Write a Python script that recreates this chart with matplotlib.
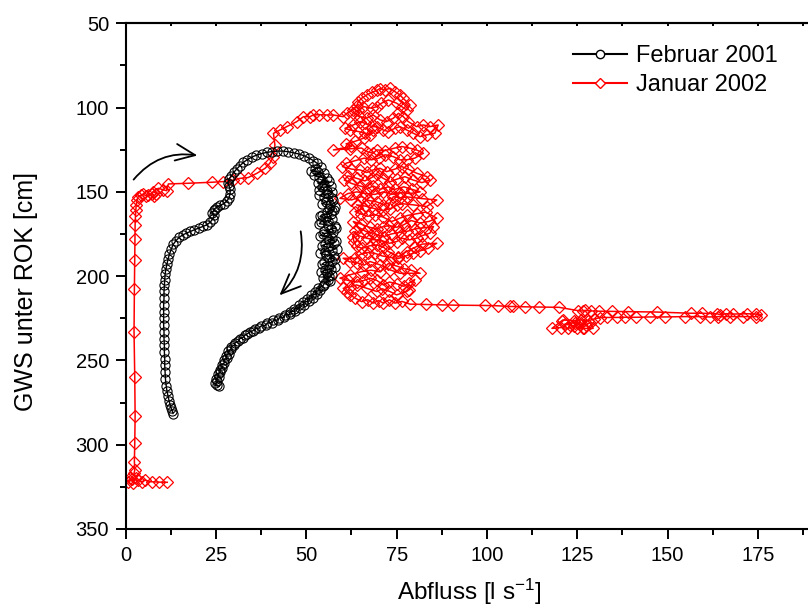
import matplotlib
matplotlib.use("Agg")
import matplotlib.pyplot as plt
from matplotlib.lines import Line2D
from matplotlib.ticker import MultipleLocator

plt.rcParams['font.family'] = ['Liberation Sans', 'DejaVu Sans']
plt.rcParams['mathtext.fontset'] = 'custom'
plt.rcParams['mathtext.rm'] = 'Liberation Sans'
plt.rcParams['mathtext.default'] = 'regular'

# --- Februar 2001: (Abfluss l/s, GWS cm) ---
feb01_left = [
    (13.1, 281.5), (12.9, 280), (12.6, 278.5), (12.3, 276.5), (12.0, 274), (11.7, 271),
    (11.4, 268), (11.2, 265), (11.0, 261), (10.9, 257), (10.8, 253), (10.8, 249),
    (10.7, 245), (10.7, 241), (10.6, 237), (10.6, 233), (10.5, 229), (10.5, 225),
    (10.5, 221), (10.5, 217), (10.6, 213), (10.6, 209), (10.7, 205), (10.8, 202),
    (10.9, 199), (11.1, 196), (11.4, 193), (11.7, 190), (12.1, 187), (12.6, 184),
    (13.2, 181), (13.9, 179), (14.8, 177), (15.8, 175.5), (16.8, 174.5), (17.9, 173.5),
    (19.0, 172.5), (20.2, 171.5), (21.4, 170.5), (22.5, 169.5), (23.4, 168), (24.1, 166),
    (24.5, 164), (24.0, 162.5), (24.4, 161), (24.6, 160), (25.3, 159), (26.2, 158),
    (27.1, 157), (28.0, 155.5), (28.6, 153.5), (28.9, 151), (28.9, 148.5), (28.6, 146.5),
    (28.3, 144.5), (28.6, 142.5), (29.2, 140.5), (29.9, 138.5), (30.7, 136.5),
]
feb01_top = [
    (31.6, 134.5), (32.6, 132.5), (33.7, 130.8), (34.9, 129.4), (36.2, 128.2), (37.6, 127.3),
    (39.0, 126.6), (40.5, 126.1), (42.0, 125.8), (43.5, 125.8), (45.0, 126.2), (46.5, 126.8),
    (48.0, 127.6), (49.4, 128.6), (50.7, 129.9), (51.9, 131.4), (53.0, 133.1), (54.0, 135),
    (52.5, 136.2), (51.3, 137.4), (53.2, 138.3), (54.9, 139.1), (52.1, 140), (53.6, 141),
    (55.6, 141.9), (54.4, 143), (56.3, 143.8), (53.1, 144.7), (55.0, 145.7), (56.9, 146.5),
    (54.2, 147.4), (53.4, 148.6), (55.7, 149.4), (57.2, 150.2), (56.0, 151.2), (53.6, 152.1),
    (54.8, 153.1), (57.1, 153.9), (57.5, 155), (55.4, 155.9), (54.3, 157), (56.5, 157.8),
    (57.9, 158.8), (56.4, 159.6),
]
feb01_right = [
    (57.7, 160.5), (57.0, 161.2), (55.6, 162), (56.8, 162.9), (54.3, 163.6), (53.8, 164.6),
    (55.4, 165.3), (57.2, 166), (56.1, 167), (54.0, 167.8), (53.6, 168.9), (55.9, 169.6),
    (57.9, 170.4), (58.3, 171.5), (56.7, 172.2), (55.0, 173), (57.4, 173.9), (54.5, 174.8),
    (53.9, 175.9), (55.6, 176.6), (57.1, 177.4), (56.2, 178.4), (58.1, 179.2), (57.6, 180.3),
    (55.3, 181), (54.2, 182), (56.0, 182.8), (58.4, 183.6), (57.0, 184.6), (55.1, 185.4),
    (53.9, 186.5), (55.5, 187.4), (57.7, 188.2), (56.4, 189.1), (58.0, 190), (57.2, 191.1),
    (55.0, 191.9), (54.3, 193), (56.3, 193.8), (57.8, 194.6), (56.9, 195.6), (55.2, 196.4),
    (54.1, 197.4), (55.8, 198.2), (57.2, 199.1), (56.3, 200.2), (54.7, 201), (55.9, 202),
    (56.6, 203), (55.1, 204), (54.8, 205),
]
feb01_lower = [
    (54.5, 206), (53.2, 207.2), (53.9, 208.4), (52.4, 209.3), (52.9, 210.6), (51.3, 211.4),
    (51.8, 212.8), (50.2, 213.5), (50.6, 214.9), (49.1, 215.6), (49.4, 217), (47.9, 217.4),
    (48.2, 218.9), (46.7, 219.3), (46.9, 220.8), (45.4, 221.1), (45.5, 222.7), (44.0, 222.9),
    (43.9, 224.4), (42.5, 224.6), (42.2, 226.0), (40.9, 226.2), (40.5, 227.6), (39.2, 227.8),
    (38.7, 229.2), (37.5, 229.5), (36.9, 230.8), (35.9, 231.2), (35.1, 232.5), (34.4, 233.1),
    (33.6, 234.3), (32.9, 235.2), (32.4, 236.4), (31.5, 237.2), (31.2, 238.6), (30.3, 239.5),
    (30.1, 240.9), (29.2, 241.9), (29.2, 243.4), (28.4, 244.4), (28.5, 246), (27.7, 247.1),
    (27.9, 248.7), (27.1, 249.8), (27.3, 251.4), (26.6, 252.6), (26.7, 254.2), (26.0, 255.4),
    (26.2, 257), (25.5, 258.2), (25.7, 259.8), (25.1, 261), (25.4, 262.5), (24.8, 263.6),
    (25.2, 264.8), (25.9, 265.3),
]

# --- Januar 2002 ---
jan02_start = [
    (11.5, 322.3), (9.3, 322.2), (7.2, 322), (5.2, 321), (4.5, 322), (3.3, 321),
    (1.8, 320.5), (0.6, 322), (1.2, 320), (2.0, 322.5), (2.8, 319.5), (2.3, 317),
]
jan02_rise = [
    (2.5, 315), (2.4, 310), (2.5, 299), (2.6, 282.7), (2.5, 260), (2.3, 233),
    (2.4, 207.6), (2.5, 190.4), (2.6, 178), (2.6, 169.6), (2.7, 164.3), (2.8, 160.7),
    (2.9, 157.5), (3.1, 155), (3.4, 153), (4.1, 152), (4.8, 151.5), (5.6, 152.2),
    (6.3, 151.8), (7.2, 151), (7.8, 152.5), (8.5, 151), (7.6, 149.9), (9.0, 147.9),
    (10.2, 148.6), (11.3, 149.3), (11.8, 145.3),
]
jan02_plateau = [
    (17.3, 144.9), (23.8, 144.3), (27.0, 143.9), (29.8, 143), (31.6, 142), (33.9, 141.5),
    (36.3, 139), (38.6, 136), (39.9, 133), (40.9, 129.1), (41.3, 122.2), (40.9, 115.3),
    (42.7, 113.3), (44.6, 111.3), (47.3, 108.4), (49.2, 105.4), (51.0, 105.4), (51.9, 104.4),
    (53.5, 104.2), (55.6, 104.4), (57.5, 104.4), (60.2, 105.4),
]
jan02_upper = [
    (61.2, 103.4), (62.8, 101.5), (63.9, 99), (64.4, 96.5), (65.3, 94.5), (66.7, 92.5),
    (68.1, 91), (69.5, 89.8), (70.4, 88.7), (71.8, 89.5), (73.2, 88.5), (74.5, 90.5),
    (75.9, 92.5), (76.8, 94.5), (78.7, 98.4), (77.8, 101.4), (76.4, 99.4), (75.0, 97.4),
    (72.7, 95.5), (70.8, 97.4), (69.5, 99.4), (68.1, 100.4), (65.8, 99.4), (64.4, 101.4),
    (63.0, 103.4), (64.9, 105.3), (66.7, 106.3), (68.5, 104.4), (70.4, 107.3), (72.2, 108.3),
    (74.1, 106.3), (75.5, 103.4), (76.8, 105.3), (78.2, 108.3), (80.5, 111.3), (82.4, 110.3),
    (84.2, 111.3), (86.5, 110.3), (85.6, 115.2), (83.3, 116.2), (81.5, 117.2), (79.6, 115.2),
    (77.8, 113.3), (75.9, 111.3), (74.5, 112.3), (72.7, 114.2), (71.3, 113.3), (69.5, 111.3),
    (68.1, 111.3), (66.2, 109.3), (64.9, 108.3), (63.0, 110.3), (60.7, 112.3), (62.1, 113.3),
    (64.4, 114.2), (66.2, 115.2), (67.6, 116.2), (68.5, 113.3), (66.0, 118), (63.5, 120),
    (61.0, 121.5), (62.5, 123), (57.5, 125.1), (62.0, 124.5), (65.3, 124), (66.7, 126.1),
    (68.5, 127.1), (69.5, 125.1), (71.8, 125.5), (74.5, 124), (76.4, 123.1), (78.7, 124.1),
    (80.5, 125.1), (82.4, 127.1), (80.0, 130), (77.8, 131), (75.9, 131), (74.1, 129.1),
    (71.8, 128), (70.0, 130), (68.0, 131), (66.0, 130), (63.5, 131.5), (61.0, 133),
    (60.0, 135), (62.5, 136.5), (64.9, 137), (66.7, 138.5), (68.5, 137), (70.4, 136),
    (72.2, 138), (74.5, 136.5), (76.4, 135), (78.2, 136.5), (80.5, 138.9), (83.3, 140.9),
    (84.2, 143), (82.0, 144.5), (79.6, 143), (77.3, 141), (75.0, 142.5), (73.2, 144),
    (71.3, 142), (69.5, 139.5), (68.1, 141.5), (66.2, 143.5), (64.0, 142), (61.5, 140.5),
    (60.5, 143), (62.5, 145), (64.9, 146.5), (67.0, 148), (68.5, 146.5), (70.4, 148.5),
    (72.7, 147), (74.5, 148.5), (77.0, 147), (79.2, 148.5), (81.5, 150), (78.7, 151),
    (76.0, 150.5), (73.6, 151.5), (71.3, 150), (69.0, 151.5), (66.5, 151), (64.0, 150),
    (61.5, 151), (59.3, 153.8), (62.5, 154.8), (65.3, 152.8), (67.0, 155), (69.5, 156),
    (71.3, 157.5), (73.2, 156.5), (74.1, 152.8), (76.0, 153.5), (78.0, 153), (82.0, 154),
    (86.1, 154.8), (83.3, 158.7), (79.6, 157.7), (76.4, 157), (75.0, 158), (73.2, 160),
    (71.3, 161), (69.0, 160), (66.5, 158.5), (63.9, 157.7), (65.8, 159.7), (63.5, 161.7),
]
jan02_lower = [
    (65.0, 163), (67.0, 164.5), (69.0, 163.5), (71.3, 165), (73.6, 167.6), (75.9, 165.6),
    (78.0, 164), (80.5, 163), (83.0, 162), (86.1, 165.6), (84.0, 167.5), (81.5, 168.5),
    (79.0, 167), (77.0, 169.5), (75.0, 171), (73.0, 170), (71.3, 170.6), (69.5, 172),
    (67.5, 171), (65.0, 169), (63.0, 167.6), (64.5, 171), (66.5, 173.5), (68.5, 174.5),
    (69.5, 175.5), (71.5, 176.5), (73.5, 175), (75.8, 174), (77.8, 173.5), (80.0, 172),
    (81.5, 171.6), (85.2, 170.6), (84.2, 174.5), (82.0, 176), (80.5, 177.5), (78.5, 178.5),
    (76.5, 177.5), (75.0, 179.5), (73.0, 180.5), (71.0, 179), (69.0, 178.5), (66.7, 177.5),
    (64.5, 176), (63.5, 173.5), (62.8, 176.5), (63.2, 179.5), (63.9, 182.4), (65.5, 183.5),
    (67.5, 182), (69.5, 181.5), (71.5, 183), (72.7, 185.4), (75.5, 188.4), (77.8, 185.4),
    (80.0, 183), (82.0, 181), (86.1, 180.5), (83.8, 183.4), (81.5, 185), (79.5, 186.5),
    (77.5, 188), (75.5, 189.5), (73.5, 189), (71.0, 188), (69.0, 186.5), (67.0, 186),
    (65.0, 187), (63.5, 189.4), (60.2, 189.4), (62.0, 191.5), (64.0, 192), (66.0, 193.5),
    (67.6, 191.3), (70.4, 193.3), (73.2, 196.3), (75.9, 198.3), (81.5, 198.3), (79.0, 196.5),
    (77.0, 195.5), (75.0, 194), (72.7, 192.5), (70.5, 197.5), (68.0, 196.5), (65.3, 197.3),
    (62.1, 199.2), (59.3, 201.2), (61.5, 202.5), (64.0, 203.5), (66.0, 202.5), (67.6, 201.2),
    (69.5, 202.5), (71.3, 205.2), (73.0, 203.5), (75.0, 204.5), (77.0, 206), (78.5, 204),
    (80.0, 202), (78.5, 208), (77.8, 209.1), (75.0, 211.1), (73.0, 209), (71.0, 207.5),
    (69.5, 209.1), (66.7, 207.2), (63.9, 205.2), (62.0, 206.5), (60.2, 207.2), (61.2, 209.5),
    (62.1, 211.1), (63.5, 213), (65.3, 215.1), (67.0, 214), (68.5, 216), (70.0, 214.5),
    (71.3, 216), (73.0, 214), (74.5, 216), (76.5, 215), (78.7, 216.6),
]
jan02_tail = [
    (83.0, 216.8), (87.5, 217), (90.7, 217.2), (99.5, 217.4), (103.1, 217.6), (106.4, 218),
    (107.3, 218), (110.5, 218.2), (114.5, 218.3), (120.0, 218.5), (125.3, 220.5), (126.7, 220.7),
    (127.1, 220.3), (128.7, 220.6), (131.1, 220.8), (134.5, 220.9), (139.1, 221), (147.0, 221.3),
    (156.4, 222), (159.4, 222), (163.6, 222.3), (164.5, 222.8), (166.3, 222.3), (168.2, 222.5),
    (171.9, 222.3), (174.6, 222.5), (176.0, 223), (174.6, 224), (170.9, 224), (167.3, 224),
    (164.0, 224), (161.7, 224.2), (159.0, 224), (154.8, 224), (149.3, 224.2), (145.1, 224.2),
    (141.4, 224.4), (138.2, 224.4), (135.9, 224.5), (133.1, 224.5), (131.3, 224.6), (129.5, 225.5),
    (128.0, 226.5), (126.0, 226), (124.0, 226.5), (121.0, 226), (120.7, 226.5), (118.0, 231),
    (120.5, 230.5), (122.5, 231), (124.0, 229.5), (125.5, 228), (126.5, 230.5), (127.5, 229),
    (128.5, 227.5), (129.4, 231), (127.0, 231), (125.0, 230.5), (123.0, 229), (121.5, 228.5),
    (124.5, 227.5), (126.0, 227.5),
]

feb01 = feb01_left + feb01_top + feb01_right + feb01_lower
jan02 = jan02_start + jan02_rise + jan02_plateau + jan02_upper + jan02_lower + jan02_tail

fig = plt.figure(figsize=(8.08, 6.10), dpi=100)
ax = fig.add_axes([0.1556, 0.1328, 0.8494, 0.829])

ax.plot([p[0] for p in jan02], [p[1] for p in jan02], color='red', lw=1.1,
        marker='D', ms=6.2, mfc='none', mec='red', mew=0.9)
ax.plot([p[0] for p in feb01], [p[1] for p in feb01], color='black', lw=1.0,
        marker='o', ms=6.6, mfc='none', mec='black', mew=0.8)

# direction arrows
arrow_kw = dict(arrowstyle="->,head_length=1.4,head_width=0.6", color='black', lw=1.3)
ax.annotate("", xy=(20.6, 128.7), xytext=(1.7, 144),
            arrowprops=dict(connectionstyle="arc3,rad=-0.3", **arrow_kw))
ax.annotate("", xy=(42.0, 212.5), xytext=(48.3, 171.8),
            arrowprops=dict(connectionstyle="arc3,rad=-0.28", **arrow_kw))

ax.set_xlim(0, 190)
ax.set_ylim(350, 50)
ax.xaxis.set_major_locator(MultipleLocator(25))
ax.xaxis.set_minor_locator(MultipleLocator(12.5))
ax.yaxis.set_major_locator(MultipleLocator(50))
ax.yaxis.set_minor_locator(MultipleLocator(25))

for side in ['left', 'bottom', 'top', 'right']:
    ax.spines[side].set_linewidth(1.5)
ax.tick_params(which='major', direction='out', length=7, width=1.4, labelsize=14.5, pad=5)
ax.tick_params(which='minor', direction='out', length=4.5, width=1.4)

# short inward ticks along the top edge
top = ax.secondary_xaxis('top')
top.xaxis.set_major_locator(MultipleLocator(25))
top.xaxis.set_minor_locator(MultipleLocator(12.5))
top.tick_params(which='both', direction='in', length=2.5, width=1.4, labeltop=False)
top.spines['top'].set_linewidth(1.5)

ax.set_xlabel("Abfluss [l s$^{-1}$]", fontsize=17.5, labelpad=9)
ax.set_ylabel("GWS unter ROK [cm]", fontsize=18, labelpad=27)
ax.yaxis.label.set_y(0.47)

handles = [
    Line2D([], [], color='black', lw=1.5, marker='o', ms=6, mfc='white', mec='black', mew=1),
    Line2D([], [], color='red', lw=1.5, marker='D', ms=5.5, mfc='white', mec='red', mew=1),
]
ax.legend(handles, ["Februar 2001", "Januar 2002"], loc='upper left',
          bbox_to_anchor=(0.7088, 0.926), bbox_transform=fig.transFigure,
          frameon=False, fontsize=17, handlelength=2.3, handletextpad=0.4,
          labelspacing=0.3, borderpad=0, borderaxespad=0)

fig.savefig("out.png", dpi=100)
